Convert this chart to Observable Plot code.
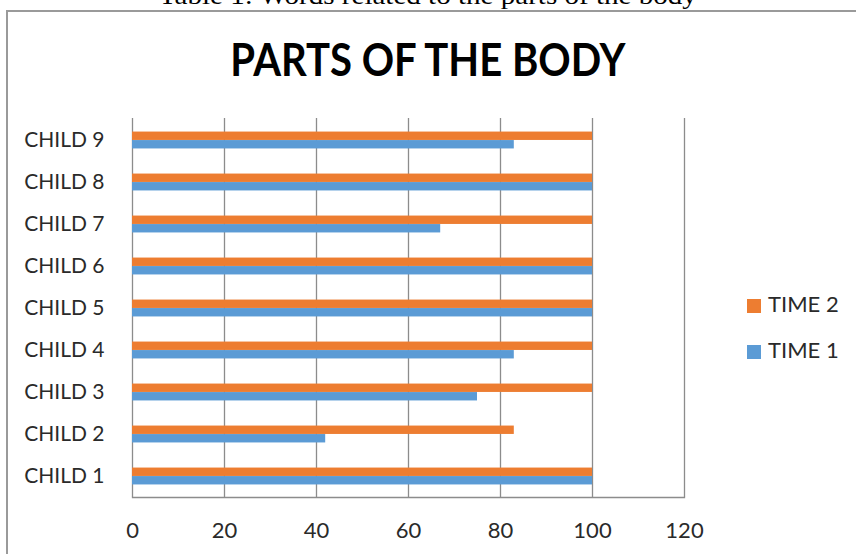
<!DOCTYPE html>
<html>
<head>
<meta charset="utf-8">
<script src="https://cdn.jsdelivr.net/npm/d3@7"></script>
<script src="https://cdn.jsdelivr.net/npm/@observablehq/plot@0.6"></script>
<style>
  html, body { margin: 0; padding: 0; background: #fff; }
  #wrap { position: relative; width: 856px; height: 554px; overflow: hidden; background: #fff; }
  #caption { position: absolute; left: 0; width: 856px; text-align: center; white-space: nowrap;
    font-family: "Liberation Serif", "Times New Roman", serif; font-size: 26px; line-height: 1; color: #000; top: -17px; }
  #box { position: absolute; left: 6px; top: 10px; width: 900px; height: 600px; border: 2px solid #9a9a9a; box-sizing: border-box; }
  #title { position: absolute; left: 0; width: 856px; text-align: center; white-space: nowrap;
    font-family: Lato, sans-serif; font-weight: bold; font-size: 45px; line-height: 1; color: #000; top: 37px; }
  #title span, #caption span { display: inline-block; transform-origin: center; }
  #plot { position: absolute; left: 0; top: 0; }
  .leg { position: absolute; left: 747px; font-family: Lato, sans-serif; font-size: 22px; color: #2a2a2a; line-height: 1; white-space: nowrap; }
  .leg i { display: inline-block; width: 14px; height: 14px; margin-right: 7px; vertical-align: -1px; }
</style>
</head>
<body>
<div id="wrap">
  <div id="caption"><span>Table 1: Words related to the parts of the body</span></div>
  <div id="box"></div>
  <div id="plot"></div>
  <div id="title"><span>PARTS OF THE BODY</span></div>
  <div id="legend"></div>
</div>
<script>
const children = ["CHILD 1","CHILD 2","CHILD 3","CHILD 4","CHILD 5","CHILD 6","CHILD 7","CHILD 8","CHILD 9"];
const time1 = [100, 42, 75, 83, 100, 100, 67, 100, 83];
const time2 = [100, 83, 100, 100, 100, 100, 100, 100, 100];
const xTicks = [0, 20, 40, 60, 80, 100, 120];
const seriesNames = ["TIME 2", "TIME 1"];
const seriesColors = ["#ED7D31", "#5B9BD5"];

const rows1 = children.map((c, i) => ({child: c, value: time1[i], series: "TIME 1"}));
const rows2 = children.map((c, i) => ({child: c, value: time2[i], series: "TIME 2"}));

const W = 856, H = 554;
const mTop = 118, mBottom = 57, mLeft = 132, mRight = 172;
const bw = (H - mTop - mBottom) / children.length;
const barH = 8.5;

const chart = Plot.plot({
  width: W, height: H,
  marginTop: mTop, marginBottom: mBottom, marginLeft: mLeft, marginRight: mRight,
  style: {fontFamily: "Lato, sans-serif", fontSize: "21px", color: "#2a2a2a", background: "transparent"},
  x: {domain: [0, 120], ticks: xTicks},
  y: {domain: children.slice().reverse(), padding: 0},
  color: {domain: seriesNames, range: seriesColors},
  marks: [
    Plot.ruleX(xTicks, {stroke: "#8c8c8c", strokeWidth: 1.3, strokeOpacity: 1}),
    Plot.barX(rows2, {x: "value", y: "child", fill: "series", insetTop: bw / 2 - barH, insetBottom: bw / 2}),
    Plot.barX(rows1, {x: "value", y: "child", fill: "series", insetTop: bw / 2, insetBottom: bw / 2 - barH}),
    Plot.frame({anchor: "bottom", stroke: "#8c8c8c", strokeWidth: 1.3}),
    Plot.axisX({ticks: xTicks, tickSize: 0, tickPadding: 25, label: null, fill: "#2a2a2a", fontSize: 22}),
    Plot.axisY({tickSize: 0, tickPadding: 28, label: null, fill: "#2a2a2a", fontSize: 21})
  ]
});
document.getElementById("plot").appendChild(chart);

// legend
const legend = document.getElementById("legend");
const legTops = [293, 339];
seriesNames.forEach((s, i) => {
  const d = document.createElement("div");
  d.className = "leg";
  d.style.top = legTops[i] + "px";
  d.innerHTML = `<i style="background:${seriesColors[i]}"></i>${s}`;
  legend.appendChild(d);
});

// fit text widths
function fit(sel, target) {
  const el = document.querySelector(sel);
  const w = el.getBoundingClientRect().width;
  el.style.transform = `scaleX(${target / w})`;
}
fit("#title span", 395);
fit("#caption span", 538);
</script>
</body>
</html>
